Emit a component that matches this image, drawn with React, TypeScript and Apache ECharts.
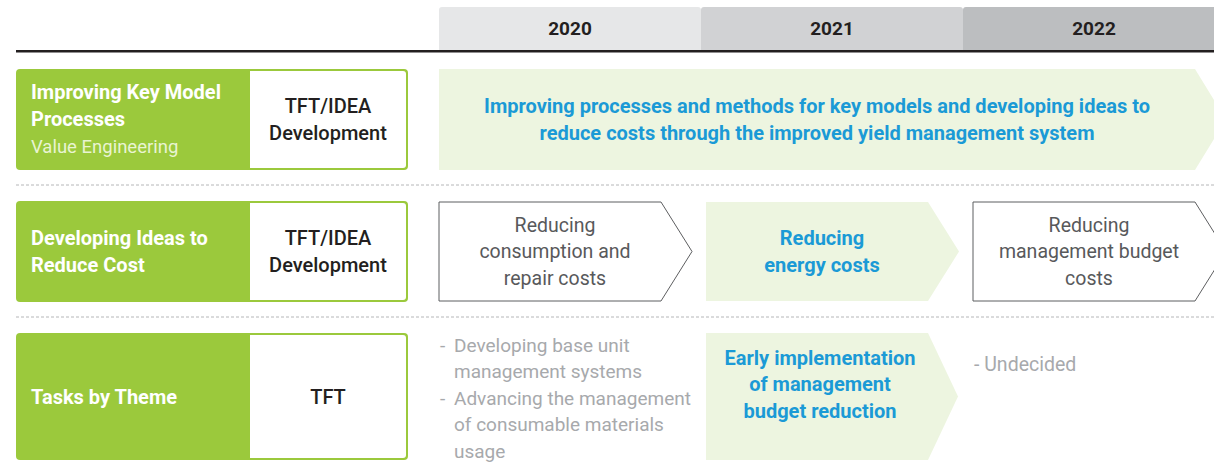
import React, { useEffect, useRef } from "react";
import * as echarts from "echarts";

const years = ["2020", "2021", "2022"];
const rowTitles = [["Improving Key Model", "Processes"], ["Developing Ideas to", "Reduce Cost"], ["Tasks by Theme"]];
const rowSubtitles = ["Value Engineering", "", ""];
const rowOwners = [["TFT/IDEA", "Development"], ["TFT/IDEA", "Development"], ["TFT"]];
const row1Goal = ["Improving processes and methods for key models and developing ideas to", "reduce costs through the improved yield management system"];
const row2Items = [
  { lines: ["Reducing", "consumption and", "repair costs"], highlight: false },
  { lines: ["Reducing", "energy costs"], highlight: true },
  { lines: ["Reducing", "management budget", "costs"], highlight: false },
];
const row3Notes2020 = [["- ", "Developing base unit"], ["", "management systems"], ["- ", "Advancing the management"], ["", "of consumable materials"], ["", "usage"]];
const row3Highlight2021 = ["Early implementation", "of management", "budget reduction"];
const row3Notes2022 = ["- Undecided"];

const FONT = "Roboto, 'Noto Sans', sans-serif";
const GREEN = "#9bc93c";
const LIGHT = "#edf5e0";
const BLUE = "#1b9ad6";
const DARK = "#231f20";
const GRAYTXT = "#a7a9ac";
const MIDTXT = "#58595b";

function txt(text: string, x: number, y: number, size: number, weight: any, fill: string, align = "center", lh = 27) {
  return {
    type: "text",
    silent: true,
    style: {
      text, x, y, fill,
      fontSize: size, fontWeight: weight, fontFamily: FONT,
      align, verticalAlign: "middle", textAlign: align, textVerticalAlign: "middle",
      lineHeight: lh,
    },
  };
}

export default function App() {
  const ref = useRef<HTMLDivElement>(null);
  useEffect(() => {
    document.body.style.margin = "0";
    const chart = echarts.init(ref.current!, undefined, { renderer: "svg" });
    const els: any[] = [];
    // year tabs
    const tabColors = ["#e6e7e8", "#d1d2d4", "#bcbec0"];
    const tabX = [439, 701, 963];
    years.forEach((y, i) => {
      els.push({ type: "rect", shape: { x: tabX[i], y: 7, width: 262, height: 45, r: [3, 3, 0, 0] }, style: { fill: tabColors[i] } });
      els.push(txt(y, tabX[i] + 131, 28, 19, 700, DARK));
    });
    els.push({ type: "rect", shape: { x: 16, y: 50, width: 1198, height: 2.5 }, style: { fill: DARK } });
    // dashed separators
    [185, 317].forEach((yy) => {
      els.push({ type: "line", shape: { x1: 16, y1: yy, x2: 1214, y2: yy }, style: { stroke: "#b5b6b8", lineWidth: 1, lineDash: [3, 2] } });
    });
    // left boxes
    const rowTop = [69, 201, 333];
    const rowH = [101, 101, 127];
    rowTitles.forEach((t, i) => {
      const top = rowTop[i], h = rowH[i];
      els.push({ type: "rect", shape: { x: 16, y: top, width: 392, height: h, r: 4 }, style: { fill: GREEN } });
      els.push({ type: "rect", shape: { x: 250, y: top + 2, width: 156, height: h - 4, r: [0, 3, 3, 0] }, style: { fill: "#ffffff" } });
      const mid = top + h / 2;
      if (rowSubtitles[i]) {
        els.push(txt(t[0], 31, 92, 20, 700, "#ffffff", "left"));
        els.push(txt(t[1], 31, 119, 20, 700, "#ffffff", "left"));
        els.push(txt(rowSubtitles[i], 31, 147, 18.5, 400, "#e9f4d2", "left"));
      } else {
        els.push(txt(t.join("\n"), 31, mid, 20, 700, "#ffffff", "left"));
      }
      els.push(txt(rowOwners[i].join("\n"), 328, mid, 20, 500, DARK));
    });
    // row 1 big arrow
    els.push({ type: "polygon", shape: { points: [[439, 69], [1195, 69], [1226, 119.5], [1195, 170], [439, 170]] }, style: { fill: LIGHT } });
    els.push(txt(row1Goal.join("\n"), 817, 119.5, 20, 700, BLUE));
    // row 2 arrows
    const arrX = [439, 706, 973];
    row2Items.forEach((it, i) => {
      const x0 = arrX[i], x1 = x0 + 222, tip = x1 + 31, t = 202, b = 301, m = 251.5;
      els.push({
        type: "polygon",
        shape: { points: [[x0, t], [x1, t], [tip, m], [x1, b], [x0, b]] },
        style: it.highlight ? { fill: LIGHT } : { fill: "#ffffff", stroke: "#5d5e60", lineWidth: 1 },
      });
      els.push(txt(it.lines.join("\n"), x0 + 116, m, it.highlight ? 20 : 19.5, it.highlight ? 700 : 400, it.highlight ? BLUE : MIDTXT, "center", 26.5));
    });
    // row 3
    const r3y = [345, 371, 398, 424, 451];
    row3Notes2020.forEach((l, i) => {
      if (l[0]) els.push(txt("-", 440, r3y[i], 19, 400, GRAYTXT, "left"));
      els.push(txt(l[1], 454, r3y[i], 19, 400, GRAYTXT, "left"));
    });
    els.push({ type: "polygon", shape: { points: [[706, 333], [928, 333], [958, 396.5], [928, 460], [706, 460]] }, style: { fill: LIGHT } });
    els.push(txt(row3Highlight2021.join("\n"), 820, 384, 20, 700, BLUE, "center", 26.5));
    els.push(txt(row3Notes2022[0], 974, 364, 19.5, 400, GRAYTXT, "left"));

    chart.setOption({ animation: false, graphic: { elements: els } });
    return () => chart.dispose();
  }, []);
  return <div ref={ref} style={{ position: "absolute", left: 0, top: 0, width: 1214, height: 473, background: "#fff" }} />;
}
